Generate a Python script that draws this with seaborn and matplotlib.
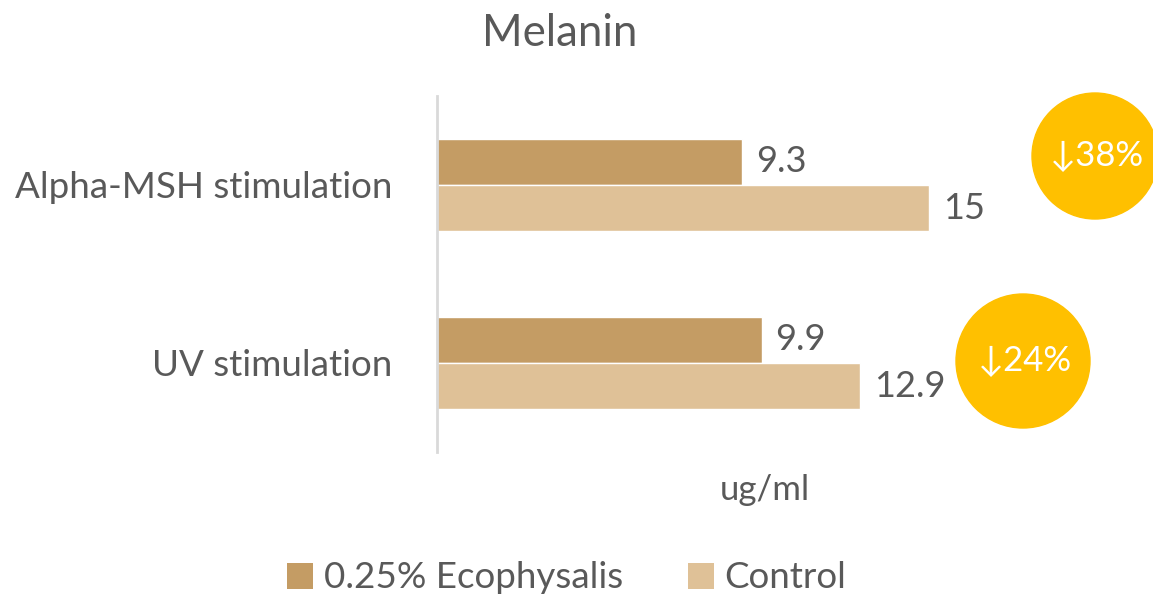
import matplotlib
matplotlib.use("Agg")
import matplotlib.pyplot as plt
import seaborn as sns
import pandas as pd
from matplotlib.patches import Ellipse, Patch

categories = ["Alpha-MSH stimulation", "UV stimulation"]
series_names = ["0.25% Ecophysalis", "Control"]
ecophysalis = [9.3, 9.9]
control = [15, 12.9]
reductions = ["↓38%", "↓24%"]
colors = ["#C49C64", "#DFC197"]
gray = "#595959"

df = pd.DataFrame({
    "category": categories * 2,
    "series": [series_names[0]] * 2 + [series_names[1]] * 2,
    "value": ecophysalis + control,
})

sns.set_theme(style="white")
plt.rcParams["font.family"] = ["Lato", "DejaVu Sans"]

W, H = 1153, 602
fig = plt.figure(figsize=(W / 100, H / 100), dpi=100)
ax = fig.add_axes([437 / W, 1 - 452 / H, (1093 - 437) / W, (452 - 96) / H])

sns.barplot(data=df, y="category", x="value", hue="series", orient="h",
            palette=colors, width=0.52, ax=ax, legend=False, saturation=1)
ax.set_xlim(0, 20)
ax.set_ylim(1.5, -0.5)

for s in ["top", "right", "bottom"]:
    ax.spines[s].set_visible(False)
ax.spines["left"].set_color("#D9D9D9")
ax.spines["left"].set_linewidth(2)
ax.set_xticks([])
ax.tick_params(axis="y", length=0, pad=32, labelsize=26.5, labelcolor=gray)
ax.set_ylabel("")
ax.set_xlabel("ug/ml", fontsize=25, color=gray, labelpad=16, fontweight="normal")

for cont in ax.containers:
    ax.bar_label(cont, labels=[f"{v:g}" for v in cont.datavalues],
                 padding=10, fontsize=26, color=gray)

fig.text(560 / W, 1 - 33 / H, "Melanin", ha="center", va="center",
         fontsize=31.5, color=gray)

# reduction badges
badges = [(1095, 156, 63), (1023, 361, 67)]
for (cx, cy, r), txt in zip(badges, reductions):
    e = Ellipse((cx / W, 1 - cy / H), 2 * r / W, 2 * r / H,
                transform=fig.transFigure, color="#FFC000", zorder=5)
    fig.patches.append(e)
    fig.text(cx / W + 2 / W, 1 - cy / H, txt, ha="center", va="center",
             fontsize=25, color="white", zorder=6)

handles = [Patch(facecolor=c, edgecolor="none") for c in colors]
fig.legend(handles, series_names, loc="center", bbox_to_anchor=(567 / W, 1 - 578 / H),
           ncol=2, frameon=False, fontsize=26.5, labelcolor=gray,
           handlelength=0.7, handleheight=0.7, handletextpad=0.3, columnspacing=1.75)

fig.savefig("out.png", dpi=100)
